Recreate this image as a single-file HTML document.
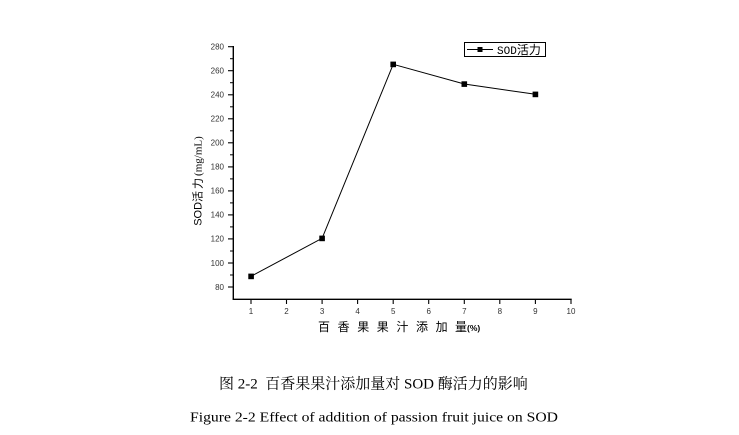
<!DOCTYPE html>
<html><head><meta charset="utf-8"><style>
html,body{margin:0;padding:0;background:#fff;}
svg{display:block;}
</style></head><body>
<svg width="739" height="435" viewBox="0 0 739 435" xmlns="http://www.w3.org/2000/svg">
<rect width="739" height="435" fill="#fff"/>
<!-- axes -->
<line x1="233.3" y1="46" x2="233.3" y2="299.5" stroke="#000" stroke-width="1.4"/>
<line x1="232.6" y1="299.3" x2="571.7" y2="299.3" stroke="#000" stroke-width="1.4"/>
<!-- y ticks -->
<g stroke="#000" stroke-width="1.1">
<line x1="228" y1="46.7" x2="233" y2="46.7"/>
<line x1="228" y1="70.7" x2="233" y2="70.7"/>
<line x1="228" y1="94.8" x2="233" y2="94.8"/>
<line x1="228" y1="118.8" x2="233" y2="118.8"/>
<line x1="228" y1="142.8" x2="233" y2="142.8"/>
<line x1="228" y1="166.9" x2="233" y2="166.9"/>
<line x1="228" y1="190.9" x2="233" y2="190.9"/>
<line x1="228" y1="214.9" x2="233" y2="214.9"/>
<line x1="228" y1="238.9" x2="233" y2="238.9"/>
<line x1="228" y1="263" x2="233" y2="263"/>
<line x1="228" y1="287" x2="233" y2="287"/>
</g>
<g stroke="#000" stroke-width="1">
<line x1="230" y1="58.7" x2="233" y2="58.7"/>
<line x1="230" y1="82.7" x2="233" y2="82.7"/>
<line x1="230" y1="106.8" x2="233" y2="106.8"/>
<line x1="230" y1="130.8" x2="233" y2="130.8"/>
<line x1="230" y1="154.8" x2="233" y2="154.8"/>
<line x1="230" y1="178.9" x2="233" y2="178.9"/>
<line x1="230" y1="202.9" x2="233" y2="202.9"/>
<line x1="230" y1="226.9" x2="233" y2="226.9"/>
<line x1="230" y1="251" x2="233" y2="251"/>
<line x1="230" y1="275" x2="233" y2="275"/>
</g>
<!-- x ticks -->
<g stroke="#000" stroke-width="1.1">
<line x1="251" y1="299" x2="251" y2="304"/>
<line x1="286.5" y1="299" x2="286.5" y2="304"/>
<line x1="322.1" y1="299" x2="322.1" y2="304"/>
<line x1="357.6" y1="299" x2="357.6" y2="304"/>
<line x1="393.2" y1="299" x2="393.2" y2="304"/>
<line x1="428.7" y1="299" x2="428.7" y2="304"/>
<line x1="464.3" y1="299" x2="464.3" y2="304"/>
<line x1="499.8" y1="299" x2="499.8" y2="304"/>
<line x1="535.4" y1="299" x2="535.4" y2="304"/>
<line x1="571" y1="299" x2="571" y2="304"/>
</g>
<!-- y tick labels -->
<g font-family="Liberation Sans, Arial, sans-serif" font-size="8" fill="#333" text-anchor="end">
<text x="224" y="49.5">280</text>
<text x="224" y="73.5">260</text>
<text x="224" y="97.6">240</text>
<text x="224" y="121.6">220</text>
<text x="224" y="145.6">200</text>
<text x="224" y="169.7">180</text>
<text x="224" y="193.7">160</text>
<text x="224" y="217.7">140</text>
<text x="224" y="241.7">120</text>
<text x="224" y="265.8">100</text>
<text x="224" y="289.8">80</text>
</g>
<!-- x tick labels -->
<g font-family="Liberation Sans, Arial, sans-serif" font-size="8" fill="#333" text-anchor="middle">
<text x="251" y="314">1</text>
<text x="286.5" y="314">2</text>
<text x="322.1" y="314">3</text>
<text x="357.6" y="314">4</text>
<text x="393.2" y="314">5</text>
<text x="428.7" y="314">6</text>
<text x="464.3" y="314">7</text>
<text x="499.8" y="314">8</text>
<text x="535.4" y="314">9</text>
<text x="571" y="314">10</text>
</g>
<!-- x axis label -->
<text x="318" y="331" font-family="Liberation Sans, 'Noto Sans CJK SC', sans-serif" font-size="12" fill="#000" letter-spacing="7.6">百香果果汁添加</text>
<text x="455" y="331" font-family="Liberation Sans, 'Noto Sans CJK SC', sans-serif" font-size="12" fill="#000">量</text>
<text x="467" y="331" font-family="Liberation Sans, sans-serif" font-size="8.5" fill="#000" font-weight="bold">(%)</text>
<!-- y axis label -->
<g transform="translate(201.5,181) rotate(-90)">
<text x="0" y="0" text-anchor="middle" font-size="11" fill="#000"><tspan font-family="Liberation Sans, sans-serif">SOD</tspan><tspan font-family="Liberation Sans, 'Noto Sans CJK SC', sans-serif" letter-spacing="2">活力</tspan><tspan font-family="Liberation Serif, serif">(mg/mL)</tspan></text>
</g>
<!-- data line -->
<polyline points="251,276.3 322.1,238.3 393.2,64.3 464.3,84 535.4,94.3" fill="none" stroke="#000" stroke-width="1"/>
<g fill="#000">
<rect x="248.3" y="273.6" width="5.6" height="5.6"/>
<rect x="319.3" y="235.6" width="5.6" height="5.6"/>
<rect x="390.4" y="61.6" width="5.6" height="5.6"/>
<rect x="461.5" y="81.3" width="5.6" height="5.6"/>
<rect x="532.6" y="91.6" width="5.6" height="5.6"/>
</g>
<!-- legend -->
<rect x="464.5" y="42.5" width="81" height="14" fill="#fff" stroke="#000" stroke-width="1"/>
<line x1="467" y1="49.5" x2="493" y2="49.5" stroke="#000" stroke-width="1"/>
<rect x="477.5" y="47" width="5" height="5" fill="#000"/>
<text x="497" y="54.2" font-family="Liberation Mono, 'Noto Sans CJK SC', monospace" font-size="11" fill="#000">SOD<tspan font-family="'Noto Sans CJK SC', sans-serif" font-size="12">活力</tspan></text>
<!-- captions -->
<text x="219" y="388.5" font-family="Liberation Serif, 'Noto Serif CJK SC', 'Noto Sans CJK SC', serif" font-size="15" fill="#000" xml:space="preserve">图 2-2  百香果果汁添加量对 SOD 酶活力的影响</text>
<text x="190" y="421.5" font-family="Liberation Serif, serif" font-size="14" fill="#000" textLength="368" lengthAdjust="spacingAndGlyphs">Figure 2-2 Effect of addition of passion fruit juice on SOD</text>
</svg>
</body></html>
